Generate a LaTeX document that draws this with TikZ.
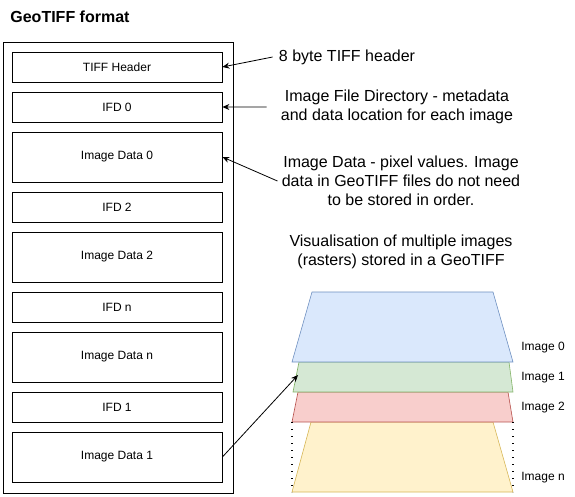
\documentclass[tikz,border=0pt]{standalone}
\usepackage{fontspec}
\setmainfont{Liberation Sans}
\usepackage{xcolor}
\usepackage{tikz}
\usetikzlibrary{positioning,arrows.meta}

\definecolor{blueFill}{HTML}{DAE8FC}
\definecolor{blueLine}{HTML}{6C8EBF}
\definecolor{greenFill}{HTML}{D5E8D4}
\definecolor{greenLine}{HTML}{82B366}
\definecolor{redFill}{HTML}{F8CECC}
\definecolor{redLine}{HTML}{B85450}
\definecolor{yellowFill}{HTML}{FFF2CC}
\definecolor{yellowLine}{HTML}{D6B656}

\begin{document}
\begin{tikzpicture}[
      x=1pt, y=-1pt, line width=0.8pt,
      font=\fontsize{12}{14}\selectfont,
      every node/.style = {align=center, inner sep=0pt},
      block/.style={draw, minimum width=210pt, minimum height=30pt},
      datablock/.style={block, minimum height=50pt},
      note/.style={font=\fontsize{16}{19.2}\selectfont},
      pointer/.style={-{Stealth[length=7pt,width=6pt]}},
      layer/.style={line width=0.6pt},
      layername/.style={anchor=west},
      node distance=9.2pt
    ]
      \useasboundingbox (0,0) rectangle (575,497);

      \node[anchor=west, font=\bfseries\fontsize{16}{19}\selectfont] (title) at (10,17) {GeoTIFF format};
      \node[draw, minimum width=230pt, minimum height=451pt] (file) at (118,267.5) {};

      \node[block] (hdr) at (117,67) {TIFF Header};
      \node[block, below=of hdr] (ifd0) {IFD 0};
      \node[datablock, below=of ifd0] (data0) {Image Data 0};
      \node[block, below=of data0] (ifd2) {IFD 2};
      \node[datablock, below=of ifd2] (data2) {Image Data 2};
      \node[block, below=of data2] (ifdn) {IFD n};
      \node[datablock, below=of ifdn] (datan) {Image Data n};
      \node[block, below=of datan] (ifd1) {IFD 1};
      \node[datablock, below=of ifd1] (data1) {Image Data 1};

      \node[note] (hdrnote) at (347,57) {8 byte TIFF header};
      \node[note] (ifdnote) at (397,107) {Image File Directory - metadata\\and data location for each image};
      \node[note] (datanote) at (401,181) {Image Data - pixel values. Image\\data in GeoTIFF files do not need\\to be stored in order.};
      \node[note] (visnote) at (401,252) {Visualisation of multiple images\\(rasters) stored in a GeoTIFF};

      \draw[layer, draw=yellowLine, fill=yellowFill] (311,422) -- (493,422) -- (513,492) -- (292,492) -- cycle;
      \draw[layer, draw=redLine, fill=redFill] (298,392) -- (508,392) -- (513,422) -- (292,422) -- cycle;
      \draw[layer, draw=greenLine, fill=greenFill] (299,362) -- (509,362) -- (513,392) -- (293,392) -- cycle;
      \draw[layer, draw=blueLine, fill=blueFill] (312,292) -- (493,292) -- (513,362) -- (292,362) -- cycle;
      \draw[dash pattern=on 1.2pt off 5.8pt, line width=1.5pt] (292,422) -- (292,492) (513,422) -- (513,492);

      \node[layername] (img0) at (521,348) {Image 0};
      \node[layername] (img1) at (521,378) {Image 1};
      \node[layername] (img2) at (521,408) {Image 2};
      \node[layername] (imgn) at (521,478) {Image n};

      \coordinate (hit) at (298,375);

      \draw[pointer] ([xshift=-6pt]hdrnote.west) -- (hdr.east);
      \draw[pointer] ([xshift=-14pt]ifdnote.west) -- (ifd0.east);
      \draw[pointer] ([xshift=-4pt]datanote.west) -- (data0.east);
      \draw[pointer] (data1.east) -- (hit);
  \end{tikzpicture}
\end{document}
